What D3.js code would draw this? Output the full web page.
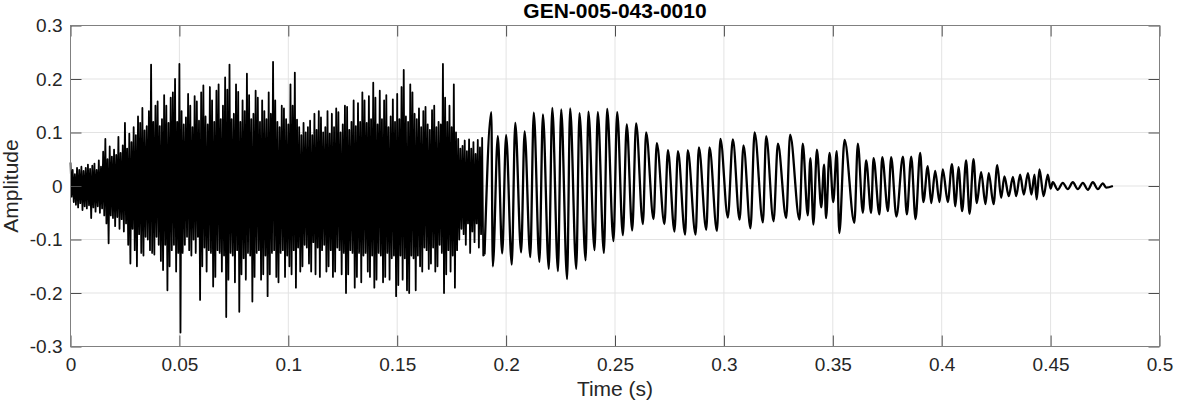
<!DOCTYPE html>
<html>
<head>
<meta charset="utf-8">
<script src="https://cdn.jsdelivr.net/npm/d3@7"></script>
<style>
body { margin: 0; background: #fff; }
svg { display: block; font-family: "Liberation Sans", Arial, Helvetica, sans-serif; }
</style>
</head>
<body>
<div id="chart"></div>
<script>
var TITLE = 'GEN-005-043-0010';
var X_LABEL = 'Time (s)';
var Y_LABEL = 'Amplitude';

var xTicks = [0, 0.05, 0.1, 0.15, 0.2, 0.25, 0.3, 0.35, 0.4, 0.45, 0.5];
var xTickLabels = ['0', '0.05', '0.1', '0.15', '0.2', '0.25', '0.3', '0.35', '0.4', '0.45', '0.5'];
var yTicks = [-0.3, -0.2, -0.1, 0, 0.1, 0.2, 0.3];
var yTickLabels = ['-0.3', '-0.2', '-0.1', '0', '0.1', '0.2', '0.3'];

// noisy onset: highest and lowest sample of every 1 ms bin, 0 .. 0.189 s
var BIN = 0.001;
var binHigh = [
	0.044, 0.030, 0.022, 0.034, 0.030, 0.036, 0.028, 0.034, 0.040, 0.032,
	0.038, 0.042, 0.030, 0.048, 0.036, 0.064, 0.088, 0.050, 0.074, 0.055,
	0.068, 0.058, 0.092, 0.062, 0.076, 0.118, 0.070, 0.098, 0.082, 0.110,
	0.095, 0.130, 0.118, 0.146, 0.104, 0.112, 0.140, 0.227, 0.120, 0.150,
	0.158, 0.112, 0.125, 0.170, 0.150, 0.118, 0.165, 0.175, 0.200, 0.120,
	0.228, 0.140, 0.115, 0.128, 0.172, 0.150, 0.110, 0.168, 0.158, 0.122,
	0.175, 0.188, 0.130, 0.115, 0.185, 0.160, 0.120, 0.178, 0.190, 0.125,
	0.150, 0.203, 0.180, 0.227, 0.125, 0.135, 0.190, 0.176, 0.120, 0.160,
	0.140, 0.210, 0.170, 0.125, 0.135, 0.178, 0.165, 0.120, 0.160, 0.140,
	0.125, 0.175, 0.135, 0.232, 0.160, 0.120, 0.110, 0.150, 0.145, 0.125,
	0.115, 0.190, 0.150, 0.212, 0.124, 0.110, 0.095, 0.118, 0.100, 0.110,
	0.122, 0.095, 0.135, 0.105, 0.140, 0.128, 0.100, 0.110, 0.140, 0.098,
	0.135, 0.110, 0.145, 0.138, 0.100, 0.115, 0.150, 0.148, 0.105, 0.120,
	0.160, 0.112, 0.155, 0.120, 0.175, 0.160, 0.118, 0.168, 0.125, 0.193,
	0.165, 0.115, 0.178, 0.125, 0.160, 0.170, 0.110, 0.130, 0.162, 0.120,
	0.172, 0.125, 0.185, 0.217, 0.130, 0.120, 0.190, 0.175, 0.135, 0.125,
	0.145, 0.110, 0.140, 0.148, 0.115, 0.105, 0.142, 0.150, 0.110, 0.120,
	0.115, 0.228, 0.165, 0.120, 0.150, 0.110, 0.190, 0.100, 0.088, 0.070,
	0.075, 0.085, 0.065, 0.087, 0.070, 0.082, 0.060, 0.086, 0.072, 0.090
];
var binLow = [
	-0.020, -0.030, -0.035, -0.040, -0.032, -0.045, -0.038, -0.042, -0.036, -0.060,
	-0.040, -0.048, -0.038, -0.050, -0.042, -0.055, -0.070, -0.107, -0.055, -0.060,
	-0.075, -0.058, -0.080, -0.062, -0.085, -0.070, -0.110, -0.145, -0.080, -0.120,
	-0.150, -0.090, -0.125, -0.130, -0.095, -0.100, -0.120, -0.125, -0.128, -0.095,
	-0.110, -0.140, -0.157, -0.110, -0.195, -0.150, -0.120, -0.110, -0.160, -0.125,
	-0.274, -0.125, -0.110, -0.095, -0.120, -0.130, -0.100, -0.125, -0.095, -0.213,
	-0.150, -0.115, -0.160, -0.120, -0.125, -0.188, -0.170, -0.120, -0.125, -0.160,
	-0.130, -0.245, -0.175, -0.125, -0.130, -0.180, -0.120, -0.235, -0.165, -0.135,
	-0.175, -0.125, -0.130, -0.216, -0.170, -0.125, -0.120, -0.175, -0.165, -0.130,
	-0.206, -0.165, -0.125, -0.120, -0.170, -0.180, -0.125, -0.120, -0.170, -0.130,
	-0.150, -0.165, -0.120, -0.190, -0.115, -0.160, -0.150, -0.110, -0.115, -0.145,
	-0.160, -0.105, -0.165, -0.115, -0.170, -0.120, -0.110, -0.160, -0.150, -0.120,
	-0.170, -0.160, -0.115, -0.120, -0.165, -0.125, -0.200, -0.165, -0.120, -0.125,
	-0.190, -0.170, -0.125, -0.180, -0.130, -0.125, -0.160, -0.170, -0.130, -0.190,
	-0.175, -0.125, -0.130, -0.180, -0.170, -0.125, -0.175, -0.135, -0.130, -0.206,
	-0.185, -0.130, -0.175, -0.135, -0.195, -0.200, -0.130, -0.135, -0.195, -0.130,
	-0.150, -0.160, -0.115, -0.120, -0.155, -0.145, -0.115, -0.160, -0.150, -0.110,
	-0.125, -0.200, -0.165, -0.120, -0.160, -0.130, -0.190, -0.120, -0.100, -0.080,
	-0.090, -0.110, -0.070, -0.125, -0.085, -0.105, -0.070, -0.115, -0.090, -0.130
];

// tonal decay: peaks and troughs
var toneTime = [
	0.1901, 0.1932, 0.1939, 0.1962, 0.1982, 0.2000, 0.2026, 0.2042, 0.2069, 0.2085,
	0.2111, 0.2127, 0.2153, 0.2169, 0.2196, 0.2212, 0.2238, 0.2253, 0.2280, 0.2294,
	0.2322, 0.2337, 0.2365, 0.2378, 0.2406, 0.2421, 0.2449, 0.2464, 0.2493, 0.2510,
	0.2536, 0.2554, 0.2579, 0.2597, 0.2628, 0.2643, 0.2677, 0.2692, 0.2727, 0.2743,
	0.2773, 0.2789, 0.2822, 0.2834, 0.2870, 0.2885, 0.2919, 0.2934, 0.2968, 0.2984,
	0.3018, 0.3041, 0.3072, 0.3090, 0.3122, 0.3141, 0.3179, 0.3194, 0.3228, 0.3248,
	0.3286, 0.3304, 0.3347, 0.3362, 0.3385, 0.3397, 0.3411, 0.3427, 0.3447, 0.3460,
	0.3469, 0.3485, 0.3502, 0.3518, 0.3530, 0.3554, 0.3599, 0.3615, 0.3638, 0.3653,
	0.3676, 0.3687, 0.3714, 0.3727, 0.3753, 0.3768, 0.3792, 0.3822, 0.3840, 0.3860,
	0.3880, 0.3901, 0.3916, 0.3936, 0.3952, 0.3970, 0.3990, 0.4005, 0.4028, 0.4047,
	0.4063, 0.4077, 0.4094, 0.4112, 0.4128, 0.4146, 0.4161, 0.4181, 0.4201, 0.4216,
	0.4238, 0.4255, 0.4273, 0.4288, 0.4308, 0.4327, 0.4342, 0.4360, 0.4377, 0.4396,
	0.4412, 0.4426, 0.4436, 0.4449, 0.4468, 0.4487, 0.4500, 0.4510, 0.4533, 0.4556,
	0.4579, 0.4602, 0.4625, 0.4648, 0.4671, 0.4694, 0.4717, 0.4740, 0.4755, 0.4786
];
var toneValue = [
	-0.128, 0.138, -0.150, 0.093, -0.126, 0.095, -0.147, 0.118, -0.124, 0.102,
	-0.133, 0.137, -0.142, 0.134, -0.155, 0.146, -0.159, 0.143, -0.174, 0.145,
	-0.155, 0.136, -0.139, 0.139, -0.120, 0.138, -0.125, 0.144, -0.103, 0.138,
	-0.092, 0.115, -0.083, 0.117, -0.071, 0.100, -0.062, 0.080, -0.071, 0.067,
	-0.085, 0.065, -0.091, 0.067, -0.091, 0.072, -0.082, 0.072, -0.084, 0.088,
	-0.059, 0.087, -0.063, 0.076, -0.079, 0.100, -0.068, 0.093, -0.066, 0.079,
	-0.060, 0.096, -0.063, 0.079, -0.055, 0.052, -0.072, 0.068, -0.040, 0.040,
	-0.060, 0.062, -0.030, 0.065, -0.088, 0.086, -0.069, 0.079, -0.050, 0.048,
	-0.050, 0.052, -0.053, 0.054, -0.047, 0.054, -0.057, 0.055, -0.053, 0.055,
	-0.062, 0.062, -0.030, 0.037, -0.032, 0.028, -0.030, 0.031, -0.030, 0.041,
	-0.038, 0.035, -0.047, 0.048, -0.052, 0.050, -0.032, 0.026, -0.034, 0.024,
	-0.034, 0.039, -0.022, 0.018, -0.019, 0.017, -0.019, 0.021, -0.016, 0.024,
	-0.016, 0.021, -0.025, 0.031, -0.019, 0.021, -0.005, 0.007, -0.007, 0.006,
	-0.006, 0.007, -0.006, 0.006, -0.007, 0.007, -0.006, 0.005, -0.003, 0.000
];

var width = 1177,
	height = 404,
	plot = { left: 70.5, right: 1159.5, top: 25.5, bottom: 346.5 },
	tickLen = 11;

var svg = d3.select('#chart').append('svg')
	.attr('width', width)
	.attr('height', height);

var x = d3.scaleLinear().domain([0, 0.5]).range([plot.left, plot.right]),
	y = d3.scaleLinear().domain([-0.3, 0.3]).range([plot.bottom, plot.top]);

// grid
var grid = svg.append('g').attr('class', 'grid');

grid.selectAll('line.gx')
	.data(xTicks.slice(1, -1))
	.enter().append('line')
	.attr('x1', function (d) { return x(d); })
	.attr('x2', function (d) { return x(d); })
	.attr('y1', plot.top)
	.attr('y2', plot.bottom)
	.attr('stroke', '#e3e3e3');

grid.selectAll('line.gy')
	.data(yTicks.slice(1, -1))
	.enter().append('line')
	.attr('x1', plot.left)
	.attr('x2', plot.right)
	.attr('y1', function (d) { return y(d); })
	.attr('y2', function (d) { return y(d); })
	.attr('stroke', '#e3e3e3');

// waveform: the noisy part as a plain zigzag, the tonal part smoothed
var noisePoints = [];
binHigh.forEach(function (v, i) {
	noisePoints.push({ t: i * BIN, v: v });
	noisePoints.push({ t: i * BIN + BIN / 2, v: binLow[i] });
});
var tonePoints = toneTime.map(function (t, i) {
	return { t: t, v: toneValue[i] };
});
noisePoints.push(tonePoints[0]);

var linear = d3.line()
	.curve(d3.curveLinear)
	.x(function (d) { return x(d.t); })
	.y(function (d) { return y(d.v); });

var smooth = d3.line()
	.curve(d3.curveMonotoneX)
	.x(function (d) { return x(d.t); })
	.y(function (d) { return y(d.v); });

svg.append('path')
	.datum(noisePoints)
	.attr('fill', 'none')
	.attr('stroke', '#000')
	.attr('stroke-width', 1.8)
	.attr('stroke-linejoin', 'round')
	.attr('d', linear);

svg.append('path')
	.datum(tonePoints)
	.attr('fill', 'none')
	.attr('stroke', '#000')
	.attr('stroke-width', 2.3)
	.attr('stroke-linejoin', 'round')
	.attr('d', smooth);

// axes, ticks pointing inward on all four sides
function styleAxis(g) {
	g.select('.domain').remove();
	g.selectAll('.tick line').attr('stroke', '#4d4d4d');
	g.selectAll('.tick text')
		.attr('fill', '#262626')
		.style('font-size', '19px')
		.style('font-family', '"Liberation Sans", Arial, Helvetica, sans-serif');
}

svg.append('g')
	.attr('transform', 'translate(0,' + plot.bottom + ')')
	.call(d3.axisBottom(x).tickValues(xTicks)
		.tickFormat(function (d, i) { return xTickLabels[i]; })
		.tickSize(-tickLen).tickPadding(11))
	.call(styleAxis);

svg.append('g')
	.attr('transform', 'translate(0,' + plot.top + ')')
	.call(d3.axisTop(x).tickValues(xTicks).tickFormat('').tickSize(-tickLen))
	.call(styleAxis);

svg.append('g')
	.attr('transform', 'translate(' + plot.left + ',0)')
	.call(d3.axisLeft(y).tickValues(yTicks)
		.tickFormat(function (d, i) { return yTickLabels[i]; })
		.tickSize(-tickLen).tickPadding(8))
	.call(styleAxis);

svg.append('g')
	.attr('transform', 'translate(' + plot.right + ',0)')
	.call(d3.axisRight(y).tickValues(yTicks).tickFormat('').tickSize(-tickLen))
	.call(styleAxis);

// box
svg.append('rect')
	.attr('x', plot.left)
	.attr('y', plot.top)
	.attr('width', plot.right - plot.left)
	.attr('height', plot.bottom - plot.top)
	.attr('fill', 'none')
	.attr('stroke', '#808080');

// labels
svg.append('text')
	.attr('x', (plot.left + plot.right) / 2)
	.attr('y', 18)
	.attr('text-anchor', 'middle')
	.attr('fill', '#000')
	.style('font-size', '21px')
	.style('font-weight', 'bold')
	.text(TITLE);

svg.append('text')
	.attr('x', (plot.left + plot.right) / 2)
	.attr('y', 396)
	.attr('text-anchor', 'middle')
	.attr('fill', '#262626')
	.style('font-size', '21px')
	.text(X_LABEL);

svg.append('text')
	.attr('transform', 'translate(18,' + y(0) + ') rotate(-90)')
	.attr('text-anchor', 'middle')
	.attr('fill', '#262626')
	.style('font-size', '21px')
	.text(Y_LABEL);
</script>
</body>
</html>
